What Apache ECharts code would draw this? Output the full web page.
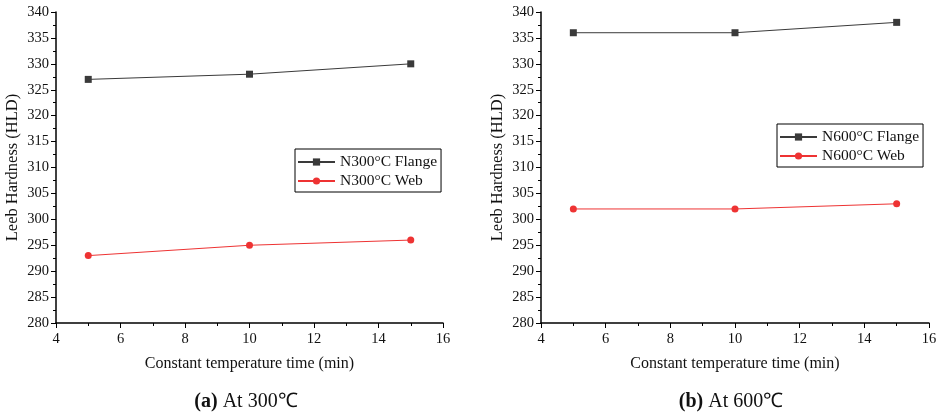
<!DOCTYPE html>
<html><head><meta charset="utf-8">
<script src="https://cdn.jsdelivr.net/npm/echarts@6/dist/echarts.min.js"></script>
<style>html,body{margin:0;padding:0;background:#fff}#c{width:941px;height:415px}</style>
</head><body><div id="c"></div>
<script>
const times = [5, 10, 15];
const flange300 = [327, 328, 330];
const web300 = [293, 295, 296];
const flange600 = [336, 336, 338];
const web600 = [302, 302, 303];
const names300 = ['N300\u00B0C Flange', 'N300\u00B0C Web'];
const names600 = ['N600\u00B0C Flange', 'N600\u00B0C Web'];
const captions = [['(a)', ' At 300\u2103'], ['(b)', ' At 600\u2103']];
const xName = 'Constant temperature time (min)';
const yName = 'Leeb Hardness (HLD)';

const FONT = '"Liberation Serif", "Times New Roman", serif';
const grey = '#3a3a3a', red = '#ee3333';
const chart = echarts.init(document.getElementById('c'));

function xAxis(i) {
  return {
    gridIndex: i, type: 'value', min: 4, max: 16, interval: 2,
    name: xName, nameLocation: 'middle', nameGap: 33,
    nameTextStyle: {fontFamily: FONT, fontSize: 16, color: '#111'},
    axisLine: {show: true, onZero: false, lineStyle: {color: '#000', width: 1.5}},
    axisTick: {show: true, length: 5, lineStyle: {color: '#000'}},
    minorTick: {show: true, splitNumber: 2, length: 3, lineStyle: {color: '#000'}},
    splitLine: {show: false},
    axisLabel: {fontFamily: FONT, fontSize: 14.5, color: '#111', margin: 9}
  };
}
function yAxis(i) {
  return {
    gridIndex: i, type: 'value', min: 280, max: 340, interval: 5,
    name: yName, nameLocation: 'middle', nameGap: 35,
    nameTextStyle: {fontFamily: FONT, fontSize: 16.5, color: '#111'},
    axisLine: {show: true, onZero: false, lineStyle: {color: '#000', width: 1.5}},
    axisTick: {show: true, length: 5, lineStyle: {color: '#000'}},
    minorTick: {show: true, splitNumber: 2, length: 3, lineStyle: {color: '#000'}},
    splitLine: {show: false},
    axisLabel: {fontFamily: FONT, fontSize: 14.5, color: '#111', margin: 7}
  };
}
function series(name, vals, i, color, symbol, size) {
  return {
    name, type: 'line', xAxisIndex: i, yAxisIndex: i,
    data: times.map((t, k) => [t, vals[k]]),
    symbol, symbolSize: size, showSymbol: true,
    lineStyle: {color, width: 1},
    itemStyle: {color},
    animation: false
  };
}
function legend(data, left, top) {
  return {
    data, left, top, orient: 'vertical', itemGap: 3,
    itemWidth: 37, itemHeight: 9,
    borderColor: '#000', borderWidth: 1, padding: [5, 4, 3, 2],
    textStyle: {fontFamily: FONT, fontSize: 15.5, color: '#111'}
  };
}
function title(c, left) {
  return {
    text: '{b|' + c[0] + '}{n|' + c[1] + '}',
    left, top: 387, textAlign: 'center',
    textStyle: {fontWeight: 'normal', rich: {
      b: {fontFamily: FONT, fontSize: 20, fontWeight: 'bold', color: '#111'},
      n: {fontFamily: FONT, fontSize: 20, fontWeight: 'normal', color: '#111'}
    }}
  };
}

chart.setOption({
  backgroundColor: '#fff',
  title: [title(captions[0], 241), title(captions[1], 726)],
  grid: [
    {left: 56, top: 12, width: 387, height: 311},
    {left: 541, top: 12, width: 388, height: 311}
  ],
  xAxis: [xAxis(0), xAxis(1)],
  yAxis: [yAxis(0), yAxis(1)],
  legend: [legend(names300, 295, 149), legend(names600, 777, 124)],
  series: [
    series(names300[0], flange300, 0, grey, 'rect', 7),
    series(names300[1], web300, 0, red, 'circle', 7),
    series(names600[0], flange600, 1, grey, 'rect', 7),
    series(names600[1], web600, 1, red, 'circle', 7)
  ]
});
</script></body></html>
